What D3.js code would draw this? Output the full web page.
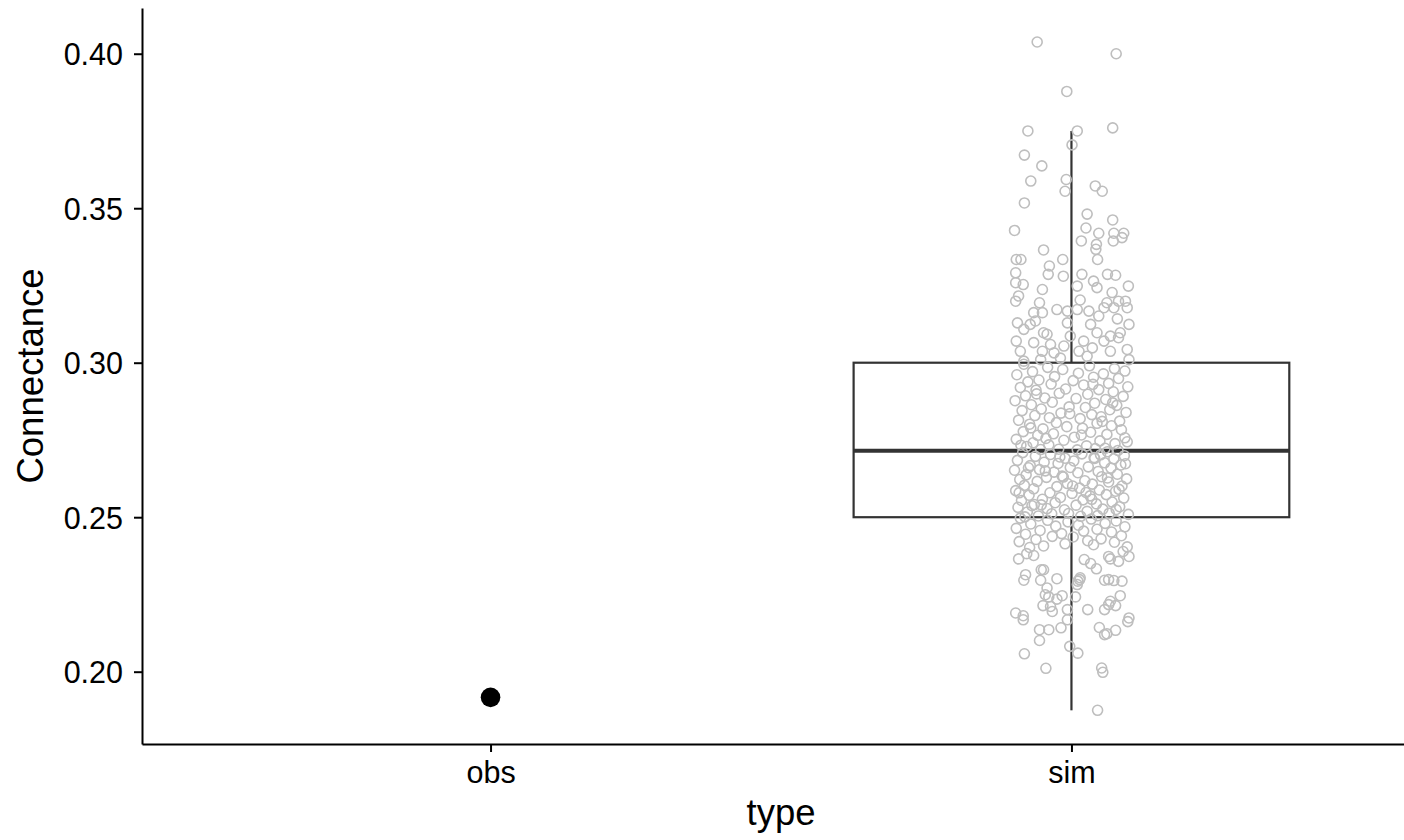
<!DOCTYPE html>
<html>
<head>
<meta charset="utf-8">
<script src="https://cdn.jsdelivr.net/npm/d3@7"></script>
<style>
  body { margin: 0; background: #fff; }
  text { font-family: "Liberation Sans", Arial, sans-serif; }
</style>
</head>
<body>
<div id="chart"></div>
<script>
// Connectance: observed value vs simulated values (box + jitter)

const categories = ["obs", "sim"];
const yTicks = [0.20, 0.25, 0.30, 0.35, 0.40];

const obsValue = 0.1917;

// box stats for sim: [lower whisker, Q1, median, Q3, upper whisker]
const simBox = [0.1875, 0.250, 0.2715, 0.300, 0.375];

// sim points: [jitter (category units), connectance]
const simTop = [
  [-0.059, 0.4038], [0.077, 0.4000], [-0.008, 0.3878], [-0.075, 0.3750], [0.010, 0.3750],
  [0.071, 0.3760], [0.001, 0.3705], [-0.081, 0.3672], [-0.051, 0.3637], [-0.070, 0.3588],
  [-0.009, 0.3593], [-0.011, 0.3555], [0.041, 0.3572], [0.053, 0.3555], [-0.081, 0.3517],
  [0.027, 0.3481], [0.071, 0.3462], [-0.098, 0.3428], [0.025, 0.3436], [0.047, 0.3419],
  [0.073, 0.3419], [0.090, 0.3419], [0.087, 0.3405], [0.072, 0.3394], [0.017, 0.3394],
  [0.043, 0.3383], [0.042, 0.3367], [-0.048, 0.3365], [-0.095, 0.3334], [-0.087, 0.3334],
  [-0.015, 0.3334], [0.045, 0.3334], [-0.038, 0.3313]
];

const simUpper = [
  [-0.096, 0.3291], [-0.040, 0.3286], [-0.014, 0.3280], [0.018, 0.3286], [0.038, 0.3264],
  [0.062, 0.3286], [0.076, 0.3283], [0.098, 0.3248], [-0.096, 0.3259], [-0.083, 0.3253],
  [-0.050, 0.3237], [0.010, 0.3248], [0.044, 0.3243], [0.070, 0.3227], [-0.096, 0.3199],
  [-0.091, 0.3216], [-0.055, 0.3194], [0.015, 0.3203], [0.061, 0.3194], [0.081, 0.3199],
  [0.093, 0.3199], [0.096, 0.3178], [-0.025, 0.3172], [-0.007, 0.3167], [0.010, 0.3172],
  [0.030, 0.3167], [0.056, 0.3178], [0.073, 0.3178], [-0.065, 0.3162], [-0.050, 0.3162],
  [0.047, 0.3151], [-0.062, 0.3135], [0.079, 0.3142], [-0.093, 0.3129], [-0.007, 0.3129],
  [0.099, 0.3124], [-0.071, 0.3124], [0.033, 0.3124], [-0.082, 0.3108], [-0.048, 0.3097],
  [-0.042, 0.3092], [0.084, 0.3097], [0.067, 0.3086], [0.044, 0.3097], [-0.002, 0.3086],
  [-0.095, 0.3070], [-0.065, 0.3065], [-0.036, 0.3059], [-0.013, 0.3054], [0.021, 0.3070],
  [0.056, 0.3070], [0.081, 0.3081], [0.096, 0.3043], [0.036, 0.3048], [-0.050, 0.3037],
  [-0.088, 0.3037], [-0.030, 0.3032], [0.013, 0.3037], [0.067, 0.3037], [-0.019, 0.3015],
  [0.027, 0.3021], [-0.082, 0.3005], [0.099, 0.3010], [-0.053, 0.3010]
];

const simMidHigh = [
  [-0.082, 0.2995], [0.031, 0.2990], [-0.041, 0.2985], [0.074, 0.2981], [-0.015, 0.2978],
  [0.092, 0.2973], [-0.067, 0.2971], [0.012, 0.2966], [0.055, 0.2964], [-0.094, 0.2961],
  [-0.029, 0.2955], [0.038, 0.2953], [0.081, 0.2949], [-0.056, 0.2944], [0.003, 0.2942],
  [-0.075, 0.2938], [0.064, 0.2933], [-0.035, 0.2931], [0.021, 0.2928], [0.097, 0.2922],
  [-0.088, 0.2920], [-0.010, 0.2915], [0.047, 0.2913], [-0.061, 0.2911], [0.072, 0.2906],
  [-0.021, 0.2901], [0.028, 0.2898], [-0.079, 0.2893], [0.089, 0.2891], [-0.046, 0.2886],
  [0.008, 0.2884], [0.059, 0.2881], [-0.097, 0.2877], [-0.033, 0.2872], [0.040, 0.2869],
  [-0.069, 0.2864], [0.078, 0.2862], [-0.004, 0.2857], [0.024, 0.2855], [-0.052, 0.2850],
  [0.066, 0.2848], [-0.085, 0.2845], [0.094, 0.2839], [-0.018, 0.2837], [0.035, 0.2832],
  [-0.063, 0.2829], [0.051, 0.2825], [-0.038, 0.2822], [0.015, 0.2819], [-0.091, 0.2814],
  [0.083, 0.2811], [-0.026, 0.2806], [0.044, 0.2804], [-0.072, 0.2801], [0.069, 0.2796],
  [-0.008, 0.2793], [0.019, 0.2788], [-0.049, 0.2786], [0.086, 0.2783], [-0.083, 0.2777],
  [0.033, 0.2775], [-0.031, 0.2770], [0.061, 0.2768], [-0.058, 0.2765], [0.005, 0.2759],
  [0.092, 0.2757], [-0.095, 0.2752], [-0.013, 0.2749], [0.049, 0.2747], [-0.066, 0.2741],
  [0.075, 0.2738], [-0.039, 0.2734], [0.026, 0.2731], [-0.077, 0.2729], [0.058, 0.2723],
  [-0.022, 0.2720], [0.010, 0.2718], [0.080, 0.2716], [-0.053, 0.2719], [0.041, 0.2722],
  [-0.087, 0.2733], [0.096, 0.2744], [-0.044, 0.2755], [0.017, 0.2766], [-0.070, 0.2789],
  [0.053, 0.2810], [-0.003, 0.2835], [0.071, 0.2870], [-0.060, 0.2899], [0.037, 0.2930]
];

const simMidLow = [
  [0.062, 0.2712], [-0.084, 0.2709], [0.018, 0.2705], [-0.036, 0.2703], [0.091, 0.2699],
  [-0.062, 0.2697], [0.039, 0.2693], [-0.011, 0.2691], [0.073, 0.2689], [-0.093, 0.2684],
  [0.004, 0.2682], [-0.047, 0.2678], [0.057, 0.2676], [-0.023, 0.2674], [0.085, 0.2669],
  [-0.071, 0.2667], [0.029, 0.2663], [-0.002, 0.2661], [0.068, 0.2659], [-0.055, 0.2654],
  [-0.098, 0.2652], [0.046, 0.2648], [-0.030, 0.2646], [0.011, 0.2644], [0.079, 0.2639],
  [-0.078, 0.2637], [-0.016, 0.2633], [0.052, 0.2631], [-0.043, 0.2629], [0.095, 0.2624],
  [-0.089, 0.2622], [0.023, 0.2618], [-0.059, 0.2616], [0.064, 0.2614], [-0.007, 0.2609],
  [0.036, 0.2607], [-0.081, 0.2603], [0.087, 0.2601], [-0.025, 0.2599], [0.014, 0.2594],
  [-0.065, 0.2592], [0.048, 0.2588], [-0.096, 0.2586], [0.076, 0.2584], [-0.037, 0.2579],
  [0.001, 0.2577], [0.060, 0.2573], [-0.073, 0.2571], [0.032, 0.2569], [-0.019, 0.2564],
  [0.090, 0.2562], [-0.050, 0.2558], [0.020, 0.2556], [-0.086, 0.2554], [0.070, 0.2549],
  [-0.028, 0.2547], [0.043, 0.2543], [-0.064, 0.2541], [0.008, 0.2539], [0.083, 0.2534],
  [-0.092, 0.2532], [-0.042, 0.2528], [0.054, 0.2526], [-0.012, 0.2524], [0.027, 0.2519],
  [-0.076, 0.2517], [0.065, 0.2513], [-0.034, 0.2511], [0.098, 0.2509], [-0.057, 0.2504],
  [0.016, 0.2503], [-0.080, 0.2501], [0.045, 0.2505], [-0.005, 0.2512], [0.077, 0.2525],
  [-0.068, 0.2537], [0.035, 0.2558], [-0.090, 0.2579], [0.002, 0.2601], [0.062, 0.2627],
  [-0.045, 0.2650], [0.093, 0.2673], [-0.020, 0.2695], [0.050, 0.2702], [-0.074, 0.2660],
  [0.025, 0.2580], [-0.052, 0.2540], [0.082, 0.2590], [-0.014, 0.2630], [0.040, 0.2690]
];

const simLower = [
  [-0.088, 0.2497], [0.034, 0.2494], [-0.041, 0.2490], [0.077, 0.2488], [-0.006, 0.2485],
  [0.058, 0.2480], [-0.070, 0.2478], [0.012, 0.2474], [-0.027, 0.2471], [0.092, 0.2469],
  [-0.095, 0.2464], [0.044, 0.2461], [-0.054, 0.2457], [0.021, 0.2455], [0.069, 0.2452],
  [-0.017, 0.2447], [-0.079, 0.2445], [0.086, 0.2440], [-0.033, 0.2438], [0.003, 0.2436],
  [0.051, 0.2430], [-0.061, 0.2428], [0.028, 0.2424], [-0.090, 0.2421], [0.074, 0.2419],
  [-0.011, 0.2414], [0.038, 0.2411], [-0.048, 0.2407], [0.096, 0.2404], [-0.072, 0.2402]
];

const simBottom = [
  [-0.091, 0.2365], [-0.077, 0.2382], [-0.065, 0.2376], [-0.079, 0.2314], [-0.082, 0.2296],
  [-0.052, 0.2330], [-0.048, 0.2330], [-0.053, 0.2296], [-0.025, 0.2301], [-0.042, 0.2271],
  [-0.045, 0.2249], [-0.039, 0.2242], [-0.016, 0.2246], [-0.025, 0.2235], [-0.049, 0.2214],
  [-0.036, 0.2211], [-0.033, 0.2195], [-0.096, 0.2190], [-0.083, 0.2181], [-0.007, 0.2201],
  [0.007, 0.2242], [0.014, 0.2298], [0.011, 0.2293], [0.015, 0.2304], [0.010, 0.2282],
  [0.028, 0.2201], [0.057, 0.2201], [0.064, 0.2217], [0.076, 0.2214], [0.067, 0.2228],
  [0.084, 0.2246], [0.057, 0.2296], [0.064, 0.2298], [0.073, 0.2295], [0.087, 0.2293],
  [0.022, 0.2363], [0.033, 0.2350], [0.043, 0.2333], [0.067, 0.2365], [0.089, 0.2389],
  [0.099, 0.2373], [0.081, 0.2357], [0.064, 0.2373], [0.099, 0.2174],
  [-0.083, 0.2168], [-0.055, 0.2136], [-0.039, 0.2136], [-0.018, 0.2142], [-0.007, 0.2168],
  [-0.055, 0.2101], [-0.081, 0.2058], [-0.044, 0.2011], [-0.003, 0.2082], [0.011, 0.2060],
  [0.048, 0.2143], [0.057, 0.2120], [0.061, 0.2123], [0.076, 0.2134], [0.097, 0.2162],
  [0.052, 0.2012], [0.054, 0.1998], [0.045, 0.1875]
];

const simPoints = simTop.concat(simUpper, simMidHigh, simMidLow, simLower, simBottom);

const width = 1404, height = 840;
const panel = { left: 142, right: 1420, top: 8, bottom: 744 };

const svg = d3.select("#chart").append("svg")
  .attr("width", width)
  .attr("height", height)
  .style("display", "block");

const x = d3.scalePoint()
  .domain(categories)
  .range([panel.left, panel.right])
  .padding(0.6);
const step = x.step();

const y = d3.scaleLinear()
  .domain([0.1766, 0.4148])
  .range([panel.bottom, panel.top]);

// boxplot for sim
const bx = x("sim");
const halfW = step * 0.375;
const box = svg.append("g").attr("stroke", "#333333").attr("fill", "none");

box.append("line")
  .attr("x1", bx).attr("x2", bx)
  .attr("y1", y(simBox[3])).attr("y2", y(simBox[4]))
  .attr("stroke-width", 2.2);
box.append("line")
  .attr("x1", bx).attr("x2", bx)
  .attr("y1", y(simBox[0])).attr("y2", y(simBox[1]))
  .attr("stroke-width", 2.2);
box.append("rect")
  .attr("x", bx - halfW)
  .attr("y", y(simBox[3]))
  .attr("width", halfW * 2)
  .attr("height", y(simBox[1]) - y(simBox[3]))
  .attr("fill", "#fff")
  .attr("stroke-width", 2.2);
box.append("line")
  .attr("x1", bx - halfW).attr("x2", bx + halfW)
  .attr("y1", y(simBox[2])).attr("y2", y(simBox[2]))
  .attr("stroke-width", 4.2);

// jittered sim points
svg.append("g").selectAll("circle")
  .data(simPoints)
  .join("circle")
  .attr("cx", d => bx + d[0] * step)
  .attr("cy", d => y(d[1]))
  .attr("r", 5)
  .attr("fill", "none")
  .attr("stroke", "#bebebe")
  .attr("stroke-width", 1.6);

// observed value
svg.append("circle")
  .attr("cx", x("obs"))
  .attr("cy", y(obsValue))
  .attr("r", 9.8)
  .attr("fill", "#000");

// axes
const yAxis = svg.append("g")
  .attr("transform", `translate(${panel.left},0)`)
  .call(d3.axisLeft(y).tickValues(yTicks).tickFormat(d3.format(".2f"))
    .tickSize(8).tickSizeOuter(0).tickPadding(11));

const xAxis = svg.append("g")
  .attr("transform", `translate(0,${panel.bottom})`)
  .call(d3.axisBottom(x).tickSize(8).tickSizeOuter(0).tickPadding(9));

[yAxis, xAxis].forEach(g => {
  g.select(".domain").attr("stroke", "#000").attr("stroke-width", 2);
  g.selectAll(".tick line").attr("stroke", "#000").attr("stroke-width", 2);
  g.selectAll(".tick text")
    .attr("fill", "#000")
    .style("font-size", "30.5px")
    .style("font-family", '"Liberation Sans", Arial, sans-serif');
});
yAxis.selectAll(".tick text").attr("dy", "0.36em");

// axis titles
svg.append("text")
  .attr("x", (panel.left + panel.right) / 2)
  .attr("y", 825)
  .attr("text-anchor", "middle")
  .style("font-size", "36.5px")
  .text("type");

svg.append("text")
  .attr("transform", `translate(43,${(panel.top + panel.bottom) / 2}) rotate(-90)`)
  .attr("text-anchor", "middle")
  .style("font-size", "36.5px")
  .text("Connectance");
</script>
</body>
</html>
